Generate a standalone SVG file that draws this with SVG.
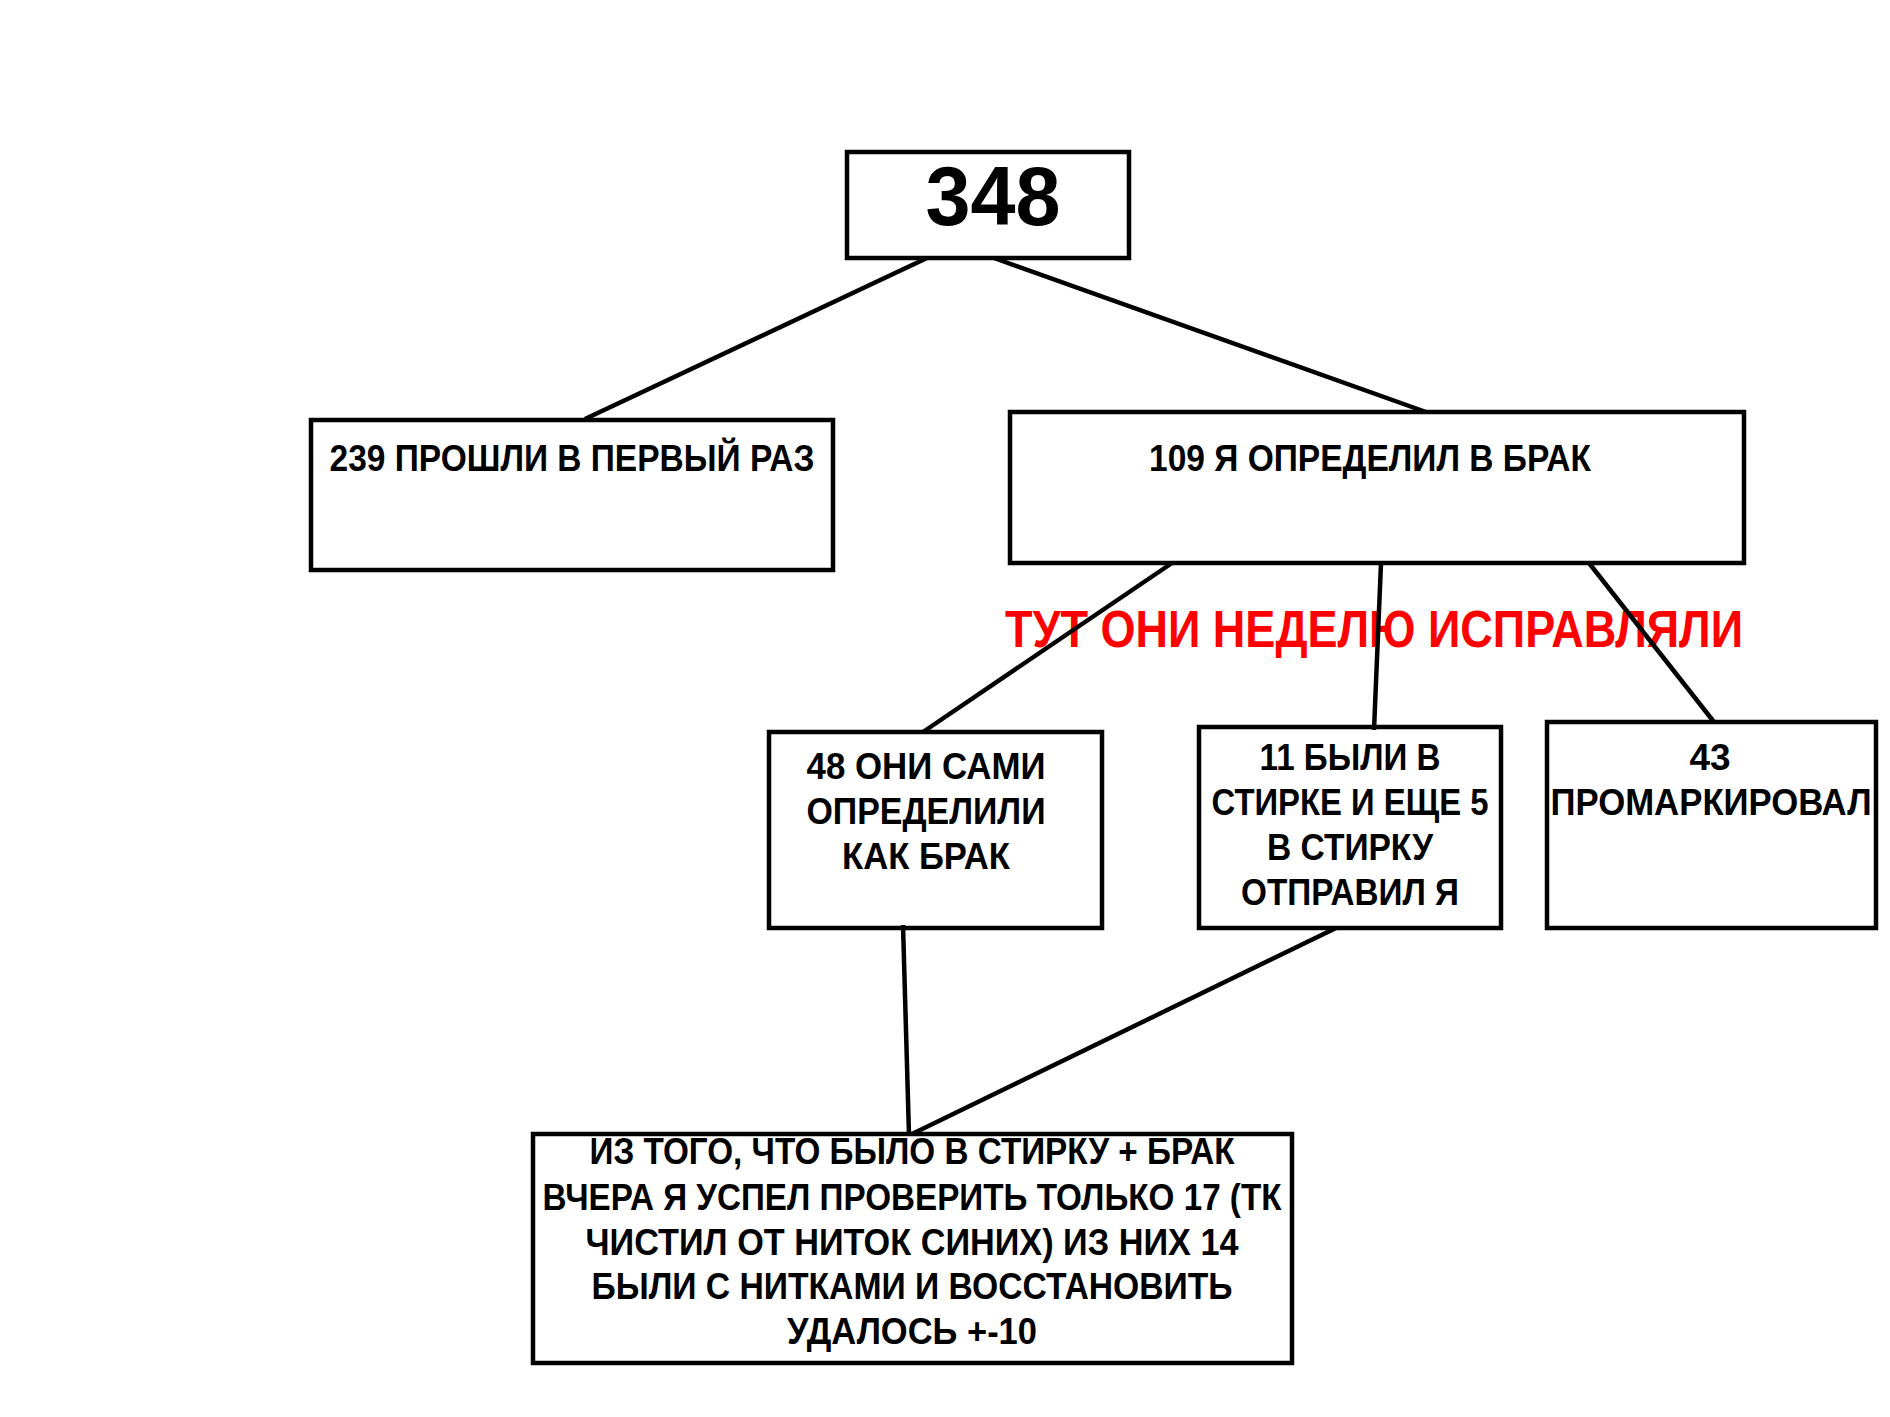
<svg xmlns="http://www.w3.org/2000/svg" width="1890" height="1417" viewBox="0 0 1890 1417">
<style>
.box{fill:#fff;stroke:#000;stroke-width:4.5}
.t{font-family:"Liberation Sans",Arial,sans-serif;font-weight:bold;font-size:36px;fill:#000;text-anchor:middle}
.big{font-size:84px}
.red{fill:#ff0000;font-size:51px}
.ln{stroke:#000;stroke-width:4.5;fill:none}
</style>
<rect width="1890" height="1417" fill="#fff"/>
<g id="n348"><rect class="box" x="847" y="152" width="282" height="106"/><text class="t big" x="993" y="225" textLength="135" lengthAdjust="spacingAndGlyphs">348</text></g>
<g id="n239"><rect class="box" x="311" y="420" width="522" height="150"/><text class="t" x="572" y="471" textLength="485" lengthAdjust="spacingAndGlyphs">239 ПРОШЛИ В ПЕРВЫЙ РАЗ</text></g>
<g id="n109"><rect class="box" x="1010" y="412" width="734" height="151"/><text class="t" x="1370" y="471" textLength="442" lengthAdjust="spacingAndGlyphs">109 Я ОПРЕДЕЛИЛ В БРАК</text></g>
<g id="note"><text class="t red" x="1374" y="647" textLength="738" lengthAdjust="spacingAndGlyphs">ТУТ ОНИ НЕДЕЛЮ ИСПРАВЛЯЛИ</text></g>
<g id="n48"><rect class="box" x="769" y="732" width="333" height="196"/>
<text class="t" x="926" y="779" textLength="239" lengthAdjust="spacingAndGlyphs">48 ОНИ САМИ</text>
<text class="t" x="926" y="824" textLength="239" lengthAdjust="spacingAndGlyphs">ОПРЕДЕЛИЛИ</text>
<text class="t" x="926" y="869" textLength="168" lengthAdjust="spacingAndGlyphs">КАК БРАК</text></g>
<g id="n11"><rect class="box" x="1199" y="727" width="302" height="201"/>
<text class="t" x="1350" y="770" textLength="181" lengthAdjust="spacingAndGlyphs">11 БЫЛИ В</text>
<text class="t" x="1350" y="815" textLength="277" lengthAdjust="spacingAndGlyphs">СТИРКЕ И ЕЩЕ 5</text>
<text class="t" x="1350" y="860" textLength="166" lengthAdjust="spacingAndGlyphs">В СТИРКУ</text>
<text class="t" x="1350" y="905" textLength="218" lengthAdjust="spacingAndGlyphs">ОТПРАВИЛ Я</text></g>
<g id="n43"><rect class="box" x="1547" y="722" width="329" height="206"/>
<text class="t" x="1710" y="770" textLength="41" lengthAdjust="spacingAndGlyphs">43</text>
<text class="t" x="1711" y="815" textLength="321" lengthAdjust="spacingAndGlyphs">ПРОМАРКИРОВАЛ</text></g>
<g id="nbottom"><rect class="box" x="533" y="1134" width="759" height="229"/>
<text class="t" x="912" y="1164" textLength="645" lengthAdjust="spacingAndGlyphs">ИЗ ТОГО, ЧТО БЫЛО В СТИРКУ + БРАК</text>
<text class="t" x="912" y="1210" textLength="739" lengthAdjust="spacingAndGlyphs">ВЧЕРА Я УСПЕЛ ПРОВЕРИТЬ ТОЛЬКО 17 (ТК</text>
<text class="t" x="912" y="1255" textLength="653" lengthAdjust="spacingAndGlyphs">ЧИСТИЛ ОТ НИТОК СИНИХ) ИЗ НИХ 14</text>
<text class="t" x="912" y="1299" textLength="641" lengthAdjust="spacingAndGlyphs">БЫЛИ С НИТКАМИ И ВОССТАНОВИТЬ</text>
<text class="t" x="912" y="1344" textLength="250" lengthAdjust="spacingAndGlyphs">УДАЛОСЬ +-10</text></g>
<g id="connectors">
<line class="ln" x1="927" y1="258" x2="585" y2="419"/>
<line class="ln" x1="994" y1="258" x2="1426" y2="412"/>
<line class="ln" x1="1172" y1="563" x2="923" y2="732"/>
<line class="ln" x1="1381" y1="563" x2="1374" y2="730"/>
<line class="ln" x1="1589" y1="563" x2="1714" y2="722"/>
<line class="ln" x1="903" y1="925" x2="909" y2="1135"/>
<line class="ln" x1="1336" y1="928" x2="912" y2="1134"/>
</g>
</svg>
